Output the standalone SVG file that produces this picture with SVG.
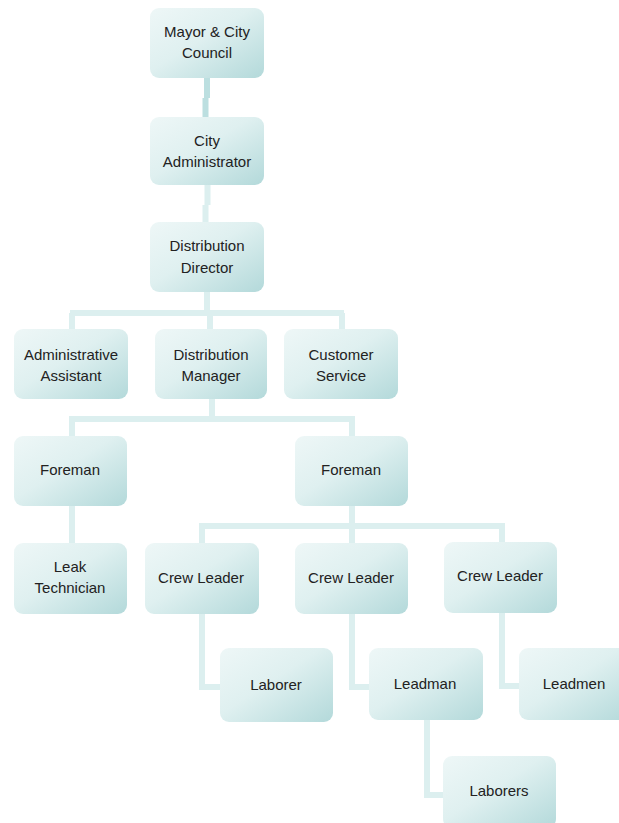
<svg xmlns="http://www.w3.org/2000/svg" width="619" height="823" viewBox="0 0 619 823">
  <defs>
    <linearGradient id="boxFill" x1="0" y1="0" x2="1" y2="1">
      <stop offset="0" stop-color="#eef7f7"/>
      <stop offset="0.45" stop-color="#dff0f0"/>
      <stop offset="1" stop-color="#b3d9da"/>
    </linearGradient>
    <style>
      .box { fill: url(#boxFill); }
      .lbl { font-family: "Liberation Sans", Arial, sans-serif; font-size: 15px; fill: #222; text-anchor: middle; }
      .wire { fill: none; stroke: #dcefef; stroke-width: 6; }
      .wire-top { fill: none; stroke: #bcdfe0; stroke-width: 6; }
    </style>
  </defs>
  <rect width="619" height="823" fill="#ffffff"/>

  <!-- connectors -->
  <g id="connectors">
    <path class="wire-top" d="M207 78 V98 M205.5 98 V117"/>
    <path class="wire" d="M207.5 185 V205 M205.5 205 V222"/>
    <path class="wire" d="M207 292 V313 M70 313 H344 M72 313 V329 M210 313 V329 M342 313 V329"/>
    <path class="wire" d="M212 398 V419 M69 419 H355 M72 419 V436 M352 419 V436"/>
    <path class="wire" d="M72 505 V543"/>
    <path class="wire" d="M352 505 V526 M199 526 H505 M202 526 V543 M352 526 V543 M502 526 V543"/>
    <path class="wire" d="M202 614 V687 H220"/>
    <path class="wire" d="M352 614 V687 H369"/>
    <path class="wire" d="M502 613 V686 H519"/>
    <path class="wire" d="M427 720 V795 H443"/>
  </g>

  <!-- nodes -->
  <g id="mayor">
    <rect class="box" x="150" y="8" width="114" height="70" rx="9"/>
    <text class="lbl" x="207" y="37">Mayor &amp; City</text>
    <text class="lbl" x="207" y="58">Council</text>
  </g>
  <g id="city-administrator">
    <rect class="box" x="150" y="117" width="114" height="68" rx="9"/>
    <text class="lbl" x="207" y="146">City</text>
    <text class="lbl" x="207" y="167">Administrator</text>
  </g>
  <g id="distribution-director">
    <rect class="box" x="150" y="222" width="114" height="70" rx="9"/>
    <text class="lbl" x="207" y="251">Distribution</text>
    <text class="lbl" x="207" y="273">Director</text>
  </g>
  <g id="administrative-assistant">
    <rect class="box" x="14" y="329" width="114" height="70" rx="9"/>
    <text class="lbl" x="71" y="360">Administrative</text>
    <text class="lbl" x="71" y="381">Assistant</text>
  </g>
  <g id="distribution-manager">
    <rect class="box" x="155" y="329" width="112" height="70" rx="9"/>
    <text class="lbl" x="211" y="360">Distribution</text>
    <text class="lbl" x="211" y="381">Manager</text>
  </g>
  <g id="customer-service">
    <rect class="box" x="284" y="329" width="114" height="70" rx="9"/>
    <text class="lbl" x="341" y="360">Customer</text>
    <text class="lbl" x="341" y="381">Service</text>
  </g>
  <g id="foreman-left">
    <rect class="box" x="14" y="436" width="113" height="70" rx="9"/>
    <text class="lbl" x="70" y="475">Foreman</text>
  </g>
  <g id="foreman-right">
    <rect class="box" x="295" y="436" width="113" height="70" rx="9"/>
    <text class="lbl" x="351" y="475">Foreman</text>
  </g>
  <g id="leak-technician">
    <rect class="box" x="14" y="543" width="113" height="71" rx="9"/>
    <text class="lbl" x="70" y="572">Leak</text>
    <text class="lbl" x="70" y="593">Technician</text>
  </g>
  <g id="crew-leader-1">
    <rect class="box" x="145" y="543" width="114" height="71" rx="9"/>
    <text class="lbl" x="201" y="583">Crew Leader</text>
  </g>
  <g id="crew-leader-2">
    <rect class="box" x="295" y="543" width="113" height="71" rx="9"/>
    <text class="lbl" x="351" y="583">Crew Leader</text>
  </g>
  <g id="crew-leader-3">
    <rect class="box" x="444" y="542" width="113" height="71" rx="9"/>
    <text class="lbl" x="500" y="581">Crew Leader</text>
  </g>
  <g id="laborer">
    <rect class="box" x="220" y="648" width="113" height="74" rx="9"/>
    <text class="lbl" x="276" y="690">Laborer</text>
  </g>
  <g id="leadman">
    <rect class="box" x="369" y="648" width="114" height="72" rx="9"/>
    <text class="lbl" x="425" y="689">Leadman</text>
  </g>
  <g id="leadmen">
    <rect class="box" x="519" y="648" width="113" height="72" rx="9"/>
    <text class="lbl" x="574" y="689">Leadmen</text>
  </g>
  <g id="laborers">
    <rect class="box" x="443" y="756" width="113" height="72" rx="9"/>
    <text class="lbl" x="499" y="796">Laborers</text>
  </g>
</svg>
